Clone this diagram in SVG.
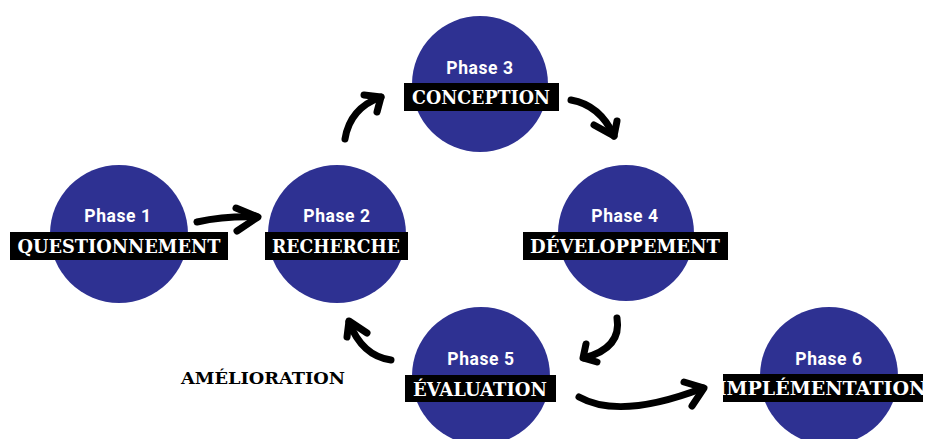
<svg xmlns="http://www.w3.org/2000/svg" width="925" height="439" viewBox="0 0 925 439">
<style>
.c{fill:#2E3192}
.ph{font-family:Roboto,"Liberation Sans",sans-serif;font-weight:bold;font-size:17.5px;fill:#fff;text-anchor:middle;letter-spacing:0.6px}
.bx{fill:#000}
.lb{font-family:"DejaVu Serif","Liberation Serif",serif;font-weight:bold;font-size:19px;fill:#fff;text-anchor:middle}
.ar{fill:none;stroke:#000;stroke-width:7;stroke-linecap:round;stroke-linejoin:round}
.am{font-family:"DejaVu Serif","Liberation Serif",serif;font-weight:bold;font-size:16px;fill:#000}
</style>
<rect width="925" height="439" fill="#fff"/>
<g id="phase1">
<circle class="c" cx="119" cy="234" r="69"/>
<text class="ph" x="118" y="222">Phase 1</text>
<rect class="bx" x="10" y="232" width="218" height="28"/>
<text class="lb" x="119" y="253" textLength="203" lengthAdjust="spacingAndGlyphs">QUESTIONNEMENT</text>
</g>
<g id="phase2">
<circle class="c" cx="337" cy="234" r="69"/>
<text class="ph" x="337" y="222">Phase 2</text>
<rect class="bx" x="265" y="232" width="143" height="28"/>
<text class="lb" x="336" y="253" textLength="128" lengthAdjust="spacingAndGlyphs">RECHERCHE</text>
</g>
<g id="phase3">
<circle class="c" cx="480" cy="84" r="68"/>
<text class="ph" x="480" y="74">Phase 3</text>
<rect class="bx" x="404" y="83" width="155" height="28"/>
<text class="lb" x="481" y="104" textLength="138" lengthAdjust="spacingAndGlyphs">CONCEPTION</text>
</g>
<g id="phase4">
<circle class="c" cx="626" cy="233" r="68"/>
<text class="ph" x="625" y="222">Phase 4</text>
<rect class="bx" x="523" y="232" width="205" height="28"/>
<text class="lb" x="625" y="253" textLength="190" lengthAdjust="spacingAndGlyphs">DÉVELOPPEMENT</text>
</g>
<g id="phase5">
<circle class="c" cx="481" cy="376" r="69"/>
<text class="ph" x="481" y="365">Phase 5</text>
<rect class="bx" x="405" y="375" width="151" height="27"/>
<text class="lb" x="480" y="396" textLength="134" lengthAdjust="spacingAndGlyphs">ÉVALUATION</text>
</g>
<g id="phase6">
<circle class="c" cx="829" cy="376" r="69"/>
<text class="ph" x="829" y="365">Phase 6</text>
<rect class="bx" x="723" y="374" width="200" height="28"/>
<text class="lb" x="822" y="395" font-size="16">IMPLÉMENTATION</text>
</g>
<g id="label-amelioration">
<text class="am" x="181" y="384" textLength="164" lengthAdjust="spacingAndGlyphs">AMÉLIORATION</text>
</g>
<g id="connectors">
<path class="ar" d="M197,222 Q225,216 257,217"/>
<path class="ar" d="M236,208 L258,217 L237,231"/>
<path class="ar" d="M345,139 Q350,108 381,97"/>
<path class="ar" d="M364,95 L381,97 L377,112"/>
<path class="ar" d="M571,100 Q600,105 614,136"/>
<path class="ar" d="M594,125 L614,136 L617,121"/>
<path class="ar" d="M617,318 Q622,348 584,358"/>
<path class="ar" d="M586,344 L583,358 L597,362"/>
<path class="ar" d="M391,360 Q362,356 349,322"/>
<path class="ar" d="M347,337 L349,321 L367,333"/>
<path class="ar" d="M579,397 Q620,420 703,388"/>
<path class="ar" d="M684,382 L704,388 L692,406"/>
</g>
</svg>
